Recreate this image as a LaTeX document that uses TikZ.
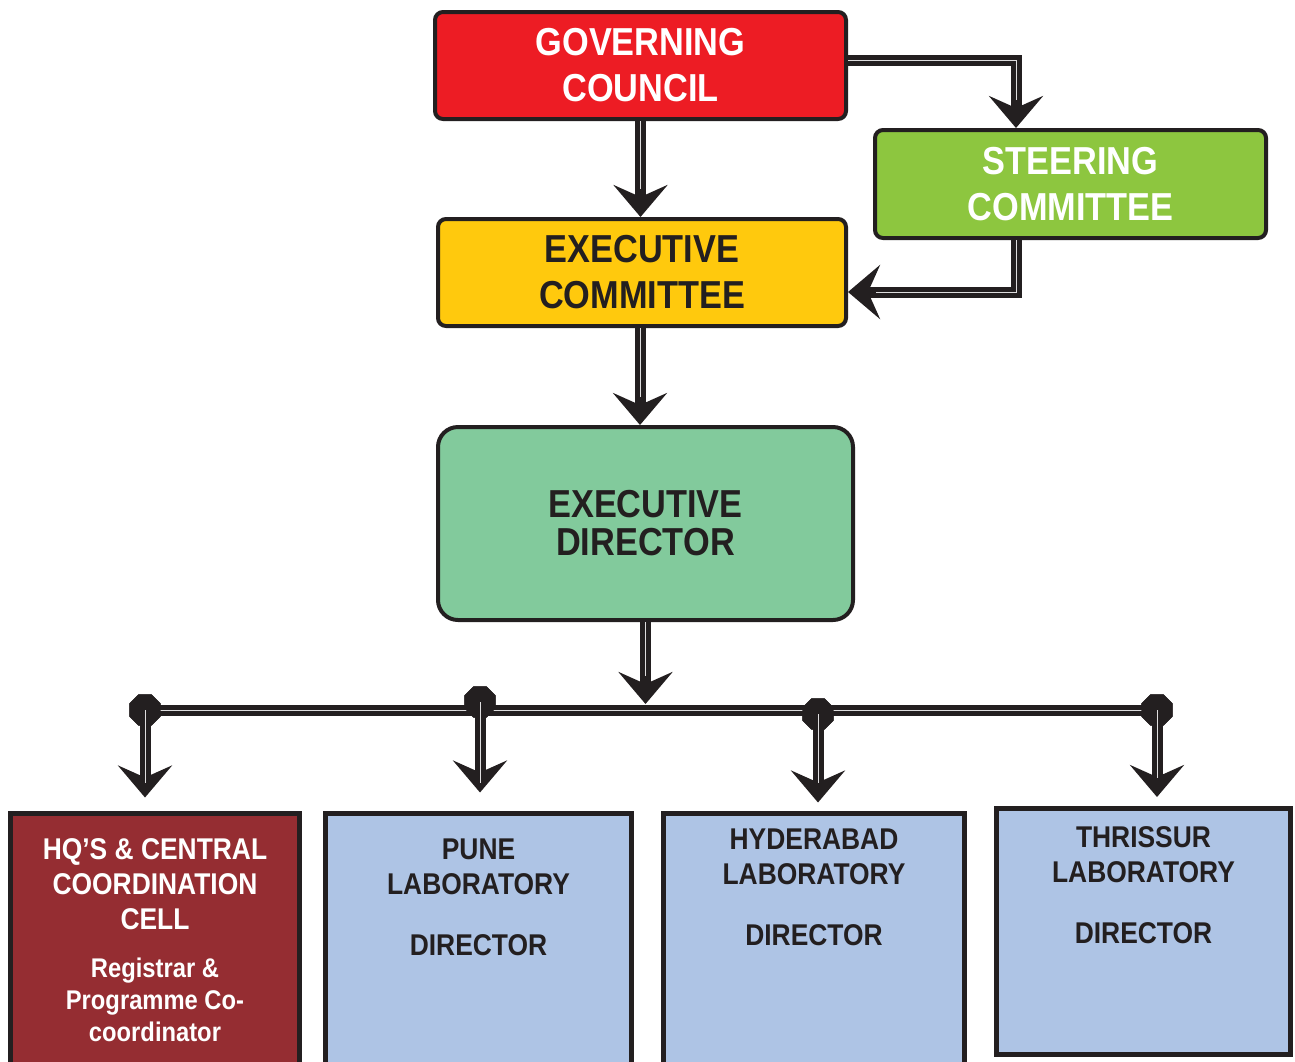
\documentclass[tikz,border=0pt]{standalone}
\usepackage{fontspec}
\setmainfont{Liberation Sans}[FakeStretch=0.88]
\usetikzlibrary{arrows.meta,positioning,shapes.geometric}
\definecolor{ink}{HTML}{231F20}
\definecolor{gcred}{HTML}{ED1C24}
\definecolor{scgreen}{HTML}{8DC63F}
\definecolor{ecyellow}{HTML}{FFC90D}
\definecolor{edmint}{HTML}{82CA9C}
\definecolor{hqred}{HTML}{952D32}
\definecolor{labblue}{HTML}{AEC4E5}

\begin{document}
\begin{tikzpicture}[x=1pt, y=-1pt, >={Stealth[length=32pt,width=54pt,inset=12pt]},
  body/.style={draw=ink, line width=4pt, rounded corners=8pt, align=center, inner sep=0pt,
    font=\bfseries\fontsize{39}{46}\selectfont},
  lab/.style={draw=ink, line width=5pt, inner sep=0pt},
  labtext/.style={align=center, inner sep=0pt, text=ink, font=\bfseries\fontsize{30}{35}\selectfont},
  bus/.style={draw=ink, line width=11pt, postaction={draw=white!85!ink, line width=0.8pt}},
  flow/.style={->, draw=ink, line width=11pt, postaction={draw=white!85!ink, line width=0.8pt, -, shorten >=28pt}},
  joint/.style={regular polygon, regular polygon sides=8, fill=ink, minimum size=34pt, inner sep=0pt}]
  \useasboundingbox (0,0) rectangle (1295,1061);
  \clip (0,0) rectangle (1295,1061);

  \node[body, fill=gcred, text=white, minimum width=411pt, minimum height=107pt] (gc) at (640.5,65.5) {GOVERNING\\COUNCIL};
  \node[body, fill=scgreen, text=white, minimum width=391pt, minimum height=108pt] (sc) at (1070.5,184) {STEERING\\COMMITTEE};
  \node[body, fill=ecyellow, text=ink, minimum width=408pt, minimum height=107pt] (ec) at (642,272.5) {EXECUTIVE\\COMMITTEE};
  \node[body, fill=edmint, text=ink, rounded corners=20pt, minimum width=415pt, minimum height=193pt,
    font=\bfseries\fontsize{39}{38}\selectfont] (ed) at (645.5,523.5) {EXECUTIVE\\DIRECTOR};

  \node[lab, fill=hqred, anchor=north, minimum width=289pt, minimum height=290pt] (hq) at (155,810.5) {};
  \node[lab, fill=labblue, anchor=north, minimum width=306pt, minimum height=290pt] (pune) at (478.5,810.5) {};
  \node[lab, fill=labblue, anchor=north, minimum width=301pt, minimum height=290pt] (hyd) at (814,810.5) {};
  \node[lab, fill=labblue, minimum width=294pt, minimum height=246pt] (tsr) at (1143.5,931.5) {};

  \node[labtext, text=white, below=28pt of hq.north] (hqtext) {HQ’S \& CENTRAL\\COORDINATION\\CELL};
  \node[labtext, text=white, below=28pt of hqtext, font=\bfseries\fontsize{27}{32}\selectfont] (hqsub) {Registrar \&\\Programme Co-\\coordinator};
  \node[labtext, below=28pt of pune.north] (punetext) {PUNE\\LABORATORY\\[26pt]DIRECTOR};
  \node[labtext, below=18pt of hyd.north] (hydtext) {HYDERABAD\\LABORATORY\\[26pt]DIRECTOR};
  \node[labtext, below=20pt of tsr.north] (tsrtext) {THRISSUR\\LABORATORY\\[26pt]DIRECTOR};

  \coordinate (hub) at (645.5,704);
  \node[joint] (j1) at (145,710) {};
  \node[joint] (j2) at (480,702) {};
  \node[joint] (j3) at (818,714) {};
  \node[joint] (j4) at (1157,710) {};

  \draw[flow] (gc.south) -- (gc.south |- ec.north);
  \draw[flow] ([yshift=5.5pt]gc.east) -| ([xshift=-54.5pt]sc.north);
  \draw[flow] ([xshift=-54.5pt]sc.south) |- ([yshift=-19.5pt]ec.east);
  \draw[flow] ([xshift=-2pt]ec.south) -- ([xshift=-2pt]ec.south |- ed.north);
  \draw[flow] (ed.south) -- (hub);
  \draw[bus] (j1.center) -- (j4.center |- j1.center);
  \node[joint] at (j1) {};
  \node[joint] at (j2) {};
  \node[joint] at (j3) {};
  \node[joint] at (j4) {};
  \draw[flow, shorten >=13pt] (j1.center) -- (j1 |- hq.north);
  \draw[flow, shorten >=18pt] (j2.center) -- (j2 |- pune.north);
  \draw[flow, shorten >=8pt] (j3.center) -- (j3 |- hyd.north);
  \draw[flow, shorten >=9pt] (j4.center) -- (j4 |- tsr.north);
\end{tikzpicture}
\end{document}
